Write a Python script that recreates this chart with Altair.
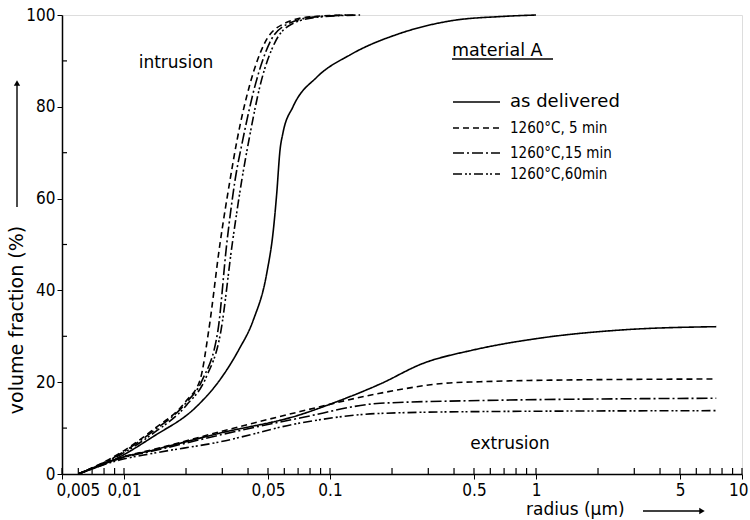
import altair as alt
import pandas as pd

NUMFONT = "DejaVu Sans Condensed, Liberation Sans Narrow, DejaVu Sans"
FONT = "DejaVu Sans"

series_names = ["as delivered", "1260°C, 5 min", "1260°C,15 min", "1260°C,60min"]
dash_styles = [[1, 0], [6, 4], [11, 3, 2, 3], [9, 3, 2, 2, 2, 3]]

# intrusion branches
intr_x = [
    [0.006, 0.0096, 0.0138, 0.0225, 0.0292, 0.036, 0.0424, 0.0493, 0.0531, 0.0551, 0.0572, 0.0591, 0.0661, 0.0865, 0.125, 0.219, 0.382, 0.70, 1.0],
    [0.006, 0.0096, 0.0138, 0.0201, 0.0234, 0.0258, 0.0292, 0.0327, 0.0354, 0.0409, 0.0483, 0.0591, 0.080, 0.12],
    [0.006, 0.0096, 0.0138, 0.0201, 0.0240, 0.0286, 0.0315, 0.0346, 0.0378, 0.0435, 0.051, 0.062, 0.085, 0.13],
    [0.006, 0.0096, 0.0138, 0.0201, 0.0250, 0.0296, 0.0335, 0.0373, 0.0405, 0.046, 0.054, 0.065, 0.09, 0.14],
]
intr_v = [
    [0, 3.8, 8.1, 14.7, 20.5, 27, 33.5, 43.7, 53.2, 61, 70.6, 74.3, 80, 86.5, 91.3, 96, 98.7, 99.7, 100],
    [0, 4.6, 9.6, 16, 20.5, 31.4, 50, 64, 72.8, 85, 94, 98, 99.6, 100],
    [0, 4.4, 9.3, 15.6, 20.5, 31.4, 50, 64, 73, 85, 94, 98, 99.6, 100],
    [0, 4.2, 8.8, 15, 21, 31.4, 50, 64, 73, 85, 94, 98, 99.6, 100],
]
# extrusion branches
extr_x = [
    [0.006, 0.0096, 0.0138, 0.0292, 0.0715, 0.100, 0.175, 0.283, 0.494, 1.045, 2.64, 7.5],
    [0.006, 0.0096, 0.0138, 0.0292, 0.0715, 0.175, 0.368, 0.535, 1.0, 7.5],
    [0.006, 0.0096, 0.0138, 0.0292, 0.0715, 0.175, 0.535, 7.5],
    [0.006, 0.0096, 0.0138, 0.0292, 0.0715, 0.175, 0.535, 7.5],
]
extr_v = [
    [0, 3.5, 5.2, 8.9, 12.9, 15.2, 19.6, 24.1, 27, 29.6, 31.4, 32.1],
    [0, 3.6, 5.3, 9.2, 13.6, 17.6, 19.8, 20.1, 20.4, 20.7],
    [0, 3.4, 5.0, 8.5, 12.2, 15.4, 16, 16.5],
    [0, 3.1, 4.5, 7.0, 11.1, 13.2, 13.6, 13.8],
]

x_major = [0.005, 0.01, 0.05, 0.1, 0.5, 1, 5, 10]
x_labels = ["0,005", "0,01", "0,05", "0.1", "0.5", "1", "5", "10"]
x_minor = [0.006, 0.007, 0.008, 0.009, 0.02, 0.03, 0.04, 0.06, 0.07, 0.08, 0.09,
           0.2, 0.3, 0.4, 0.6, 0.7, 0.8, 0.9, 2, 3, 4, 6, 7, 8, 9]
y_major = [0, 20, 40, 60, 80, 100]
y_minor = [10, 30, 50, 70, 90]

rows = []
for i, name in enumerate(series_names):
    for k, (xv, vv) in enumerate(zip(intr_x[i], intr_v[i])):
        rows.append({"r": xv, "v": vv, "series": name, "branch": "intrusion", "o": k})
    for k, (xv, vv) in enumerate(zip(extr_x[i], extr_v[i])):
        rows.append({"r": xv, "v": vv, "series": name, "branch": "extrusion", "o": k})
df = pd.DataFrame(rows)

W, H = 680, 459
xscale = alt.Scale(type="log", domain=[0.005, 10], nice=False)
yscale = alt.Scale(domain=[0, 100], nice=False)

label_expr = " : ".join(
    f"datum.value == {v} ? '{l}'" for v, l in zip(x_major, x_labels)) + " : datum.label"

curves = alt.Chart(df).mark_line(color="black", strokeWidth=1.6, interpolate="monotone").encode(
    x=alt.X("r:Q", scale=xscale,
            axis=alt.Axis(values=x_major, title=None, grid=False, tickSize=5, tickColor="black",
                          domainColor="black", domainWidth=1.5, labelFont=NUMFONT, labelFontSize=17,
                          labelColor="black", labelPadding=3, labelFlush=True, labelFlushOffset=6,
                          labelExpr=label_expr)),
    y=alt.Y("v:Q", scale=yscale,
            axis=alt.Axis(values=y_major, title=None, grid=False, tickSize=5, tickColor="black",
                          domainColor="black", domainWidth=1.5, labelFont=NUMFONT, labelFontSize=17,
                          labelColor="black", labelPadding=2)),
    strokeDash=alt.StrokeDash("series:N", scale=alt.Scale(domain=series_names, range=dash_styles), legend=None),
    detail="branch:N",
    order="o:Q",
)

minor_x = alt.Chart(pd.DataFrame({"r": x_minor + x_major})).mark_rule(color="black", strokeWidth=1.2).encode(
    x=alt.X("r:Q", scale=xscale), y=alt.value(H - 6), y2=alt.value(H))
minor_y = alt.Chart(pd.DataFrame({"v": y_minor})).mark_rule(color="black", strokeWidth=1.2).encode(
    y=alt.Y("v:Q", scale=yscale), x=alt.value(0), x2=alt.value(5))


def txt(s, x, y, size=17, align="left", angle=0, font=FONT):
    props = dict(text=s, font=font, fontSize=size, color="black", align=align, baseline="middle")
    if angle:
        props["angle"] = angle
    return alt.Chart(pd.DataFrame({"a": [0]})).mark_text(**props).encode(x=alt.value(x), y=alt.value(y))


def seg(x1, x2, y, dash=None, width=1.5):
    kw = dict(color="black", strokeWidth=width)
    if dash:
        kw["strokeDash"] = dash
    return alt.Chart(pd.DataFrame({"a": [0]})).mark_rule(**kw).encode(
        x=alt.value(x1), x2=alt.value(x2), y=alt.value(y))


layers = [curves, minor_x, minor_y,
          txt("intrusion", 114, 48, 17, "center"),
          txt("extrusion", 448, 429, 17, "center"),
          txt("material A", 390, 36, 17.5),
          seg(390, 491, 44, width=1.3),
          txt("radius (µm)", 464, 495, 17),
          seg(581, 638, 496, width=1.4),
          txt("volume fraction (%)", -45, 305, 19, "center", 270),
          alt.Chart(pd.DataFrame({"a": [0]})).mark_rule(color="black", strokeWidth=1.4).encode(
              x=alt.value(-45), y=alt.value(192), y2=alt.value(70)),
          ]
# arrow heads
layers.append(alt.Chart(pd.DataFrame({"a": [0]})).mark_point(
    shape="triangle-right", filled=True, color="black", size=40, opacity=1).encode(
    x=alt.value(640), y=alt.value(496)))
layers.append(alt.Chart(pd.DataFrame({"a": [0]})).mark_point(
    shape="triangle-up", filled=True, color="black", size=40, opacity=1).encode(
    x=alt.value(-45), y=alt.value(68)))

row_y = [87, 113, 138, 159]
row_size = [18, 15, 15, 15]
row_font = [FONT, NUMFONT, NUMFONT, NUMFONT]
for i, name in enumerate(series_names):
    layers.append(seg(391, 438, row_y[i], dash=dash_styles[i] if i else None))
    layers.append(txt(name, 448, row_y[i], row_size[i], font=row_font[i]))

chart = alt.layer(*layers).properties(
    width=W, height=H,
    autosize=alt.AutoSizeParams(type="none"),
    padding={"left": 62, "top": 15, "right": 8, "bottom": 46},
).configure_view(stroke="black", strokeWidth=1.5).configure(background="white")

chart.save("out.html", embed_options={"renderer": "svg", "actions": False})
